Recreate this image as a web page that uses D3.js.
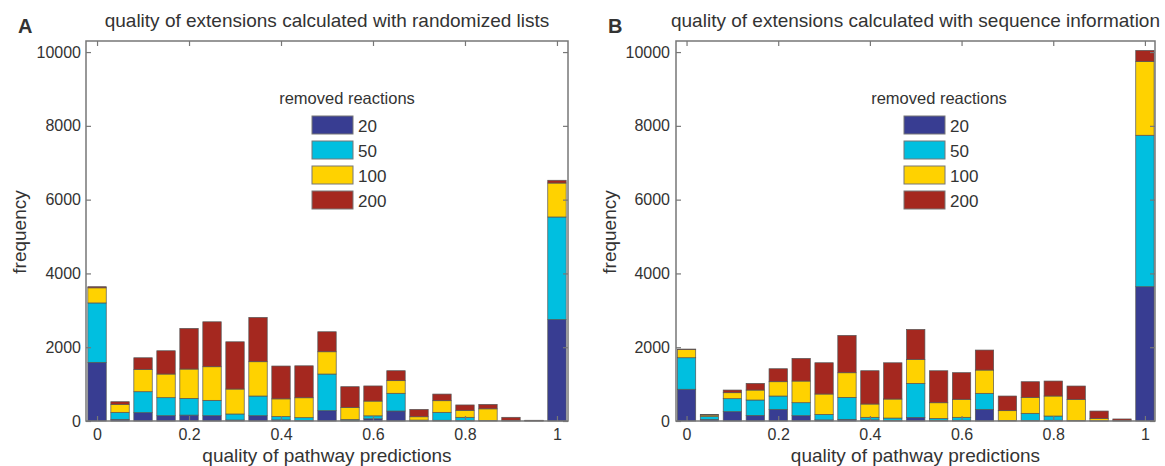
<!DOCTYPE html>
<html>
<head>
<meta charset="utf-8">
<script src="https://cdn.jsdelivr.net/npm/d3@7"></script>
<style>
  body { margin: 0; background: #fff; }
  svg { display: block; }
  text { font-family: "Liberation Sans", Arial, Helvetica, sans-serif; fill: #333; }
</style>
</head>
<body>
<svg id="chart" width="1165" height="466"></svg>
<script>
// histogram bins (quality of pathway predictions)
var bins = [0, 0.05, 0.1, 0.15, 0.2, 0.25, 0.3, 0.35, 0.4, 0.45, 0.5,
            0.55, 0.6, 0.65, 0.7, 0.75, 0.8, 0.85, 0.9, 0.95, 1];

var removedKeys = ["20", "50", "100", "200"];
var removedColors = ["#383d92", "#00bfe0", "#ffd200", "#a5281f"];

// panel A: randomized lists
var rand20  = [1590, 45, 226, 144, 160, 144, 27, 144, 30, 10, 280, 10, 60, 271, 5, 20, 10, 0, 0, 0, 2750];
var rand50  = [1610, 190, 568, 488, 454, 416, 163, 533, 90, 80, 993, 30, 80, 480, 20, 215, 90, 10, 0, 5, 2780];
var rand100 = [410, 217, 606, 641, 794, 911, 676, 930, 480, 540, 604, 330, 400, 342, 90, 315, 190, 320, 20, 5, 920];
var rand200 = [30, 71, 314, 631, 1102, 1218, 1281, 1200, 890, 866, 542, 560, 410, 270, 200, 180, 145, 120, 80, 10, 75];

// panel B: sequence information
var seq20  = [860, 40, 253, 153, 316, 144, 30, 45, 30, 10, 99, 20, 20, 316, 0, 10, 20, 0, 0, 0, 3640];
var seq50  = [855, 80, 352, 416, 361, 352, 150, 596, 70, 70, 921, 50, 80, 434, 10, 198, 115, 10, 5, 0, 4105];
var seq100 = [225, 40, 162, 270, 388, 587, 551, 667, 360, 515, 650, 425, 488, 631, 270, 433, 542, 577, 65, 10, 2000];
var seq200 = [10, 20, 72, 181, 352, 614, 848, 1012, 903, 983, 812, 867, 722, 542, 397, 424, 406, 361, 200, 45, 300];

var xTicks = [0, 0.2, 0.4, 0.6, 0.8, 1];
var yTicks = [0, 2000, 4000, 6000, 8000, 10000];

var svg = d3.select("#chart");
var color = d3.scaleOrdinal().domain(removedKeys).range(removedColors);

function drawPanel(opt) {
  var rows = bins.map(function(b, i) {
    var r = { bin: b };
    opt.series.forEach(function(s, k) { r[removedKeys[k]] = s[i]; });
    return r;
  });
  var stacked = d3.stack().keys(removedKeys)(rows);

  var x = d3.scaleLinear().domain(opt.xdom).range([opt.left, opt.right]);
  var y = d3.scaleLinear().domain([0, 10300]).range([421, 41]);
  var g = svg.append("g");

  // bars
  g.selectAll("g.layer")
    .data(stacked)
    .enter().append("g")
    .attr("class", "layer")
    .attr("fill", function(d) { return color(d.key); })
    .selectAll("rect")
    .data(function(d) { return d; })
    .enter().append("rect")
    .attr("x", function(d) { return x(d.data.bin - 0.02); })
    .attr("width", function(d) { return x(d.data.bin + 0.02) - x(d.data.bin - 0.02); })
    .attr("y", function(d) { return y(d[1]); })
    .attr("height", function(d) { return Math.max(0, y(d[0]) - y(d[1])); })
    .attr("stroke", "#555")
    .attr("stroke-width", 0.7);

  // axes, ticks pointing inward like matlab
  var fmt = function(d) { return d; };
  var bottom = g.append("g").attr("transform", "translate(0,421)")
    .call(d3.axisBottom(x).tickValues(xTicks).tickFormat(fmt).tickSize(-5).tickPadding(8));
  var top = g.append("g").attr("transform", "translate(0,41)")
    .call(d3.axisTop(x).tickValues(xTicks).tickFormat("").tickSize(-5));
  var left = g.append("g").attr("transform", "translate(" + opt.left + ",0)")
    .call(d3.axisLeft(y).tickValues(yTicks).tickFormat(fmt).tickSize(-5).tickPadding(opt.ypad));
  var right = g.append("g").attr("transform", "translate(" + opt.right + ",0)")
    .call(d3.axisRight(y).tickValues(yTicks).tickFormat("").tickSize(-5));
  [bottom, top, left, right].forEach(function(a) {
    a.select(".domain").remove();
    a.selectAll(".tick line").attr("stroke", "#777").attr("stroke-width", 1.2);
    a.selectAll(".tick text").attr("font-size", 16).attr("fill", "#333")
      .style("font-family", "'Liberation Sans', Arial, sans-serif");
  });

  g.append("rect")
    .attr("x", opt.left).attr("y", 41)
    .attr("width", opt.right - opt.left).attr("height", 380)
    .attr("fill", "none").attr("stroke", "#777").attr("stroke-width", 1.5);

  var cx = (opt.left + opt.right) / 2;
  g.append("text").attr("x", cx).attr("y", 27).attr("text-anchor", "middle")
    .attr("font-size", 19).text(opt.title);
  g.append("text").attr("x", opt.letterX).attr("y", 33)
    .attr("font-size", 20).attr("font-weight", "bold").attr("fill", "#222").text(opt.letter);
  g.append("text").attr("x", cx).attr("y", 462).attr("text-anchor", "middle")
    .attr("font-size", 19).text("quality of pathway predictions");
  g.append("text")
    .attr("transform", "translate(" + (opt.left - 60) + ",232) rotate(-90)")
    .attr("text-anchor", "middle").attr("font-size", 19).text("frequency");

  // legend
  var lg = g.append("g").attr("transform", "translate(" + opt.legX + ",0)");
  lg.append("text").attr("x", 35).attr("y", 104).attr("text-anchor", "middle")
    .attr("font-size", 16.5).text("removed reactions");
  var item = lg.selectAll("g.item").data(removedKeys).enter().append("g")
    .attr("class", "item")
    .attr("transform", function(d, i) { return "translate(0," + (116 + i * 25) + ")"; });
  item.append("rect").attr("x", 0).attr("width", 41).attr("height", 18)
    .attr("fill", function(d) { return color(d); })
    .attr("stroke", "#777").attr("stroke-width", 1);
  item.append("text").attr("x", 46).attr("y", 15.5).attr("font-size", 17)
    .text(function(d) { return d; });
}

drawPanel({
  series: [rand20, rand50, rand100, rand200],
  xdom: [-0.024, 1.024], left: 86, right: 568, ypad: 5,
  title: "quality of extensions calculated with randomized lists",
  letter: "A", letterX: 18, legX: 312
});

drawPanel({
  series: [seq20, seq50, seq100, seq200],
  xdom: [-0.023, 1.022], left: 676, right: 1155, ypad: 6,
  title: "quality of extensions calculated with sequence information",
  letter: "B", letterX: 608, legX: 904
});
</script>
</body>
</html>
